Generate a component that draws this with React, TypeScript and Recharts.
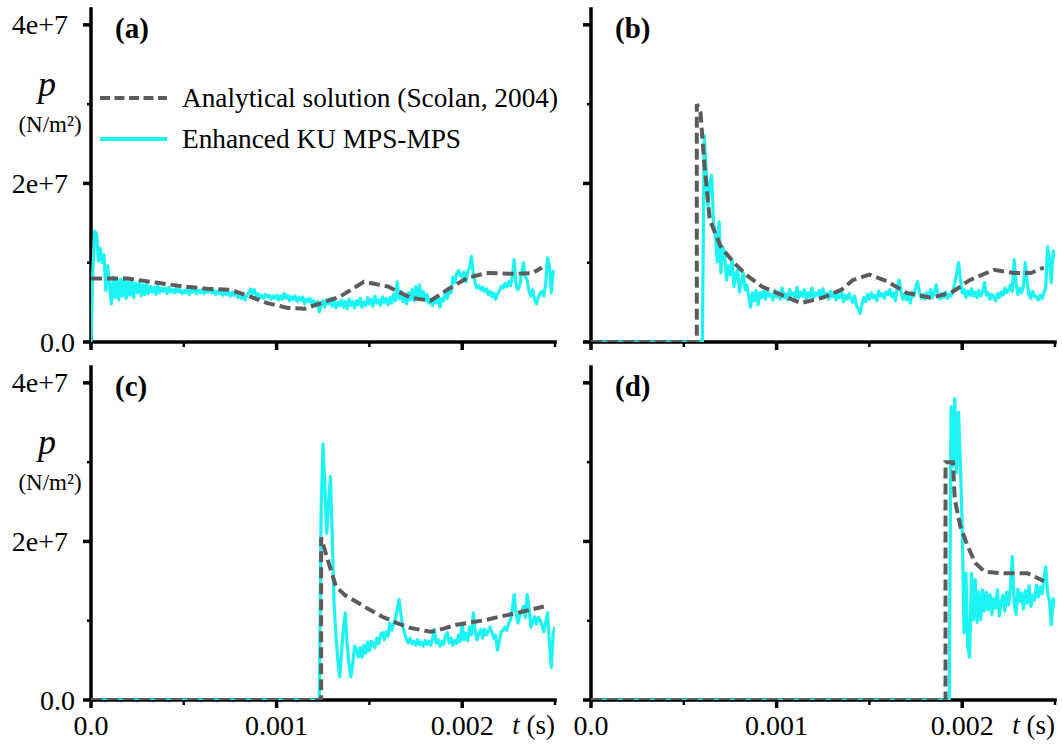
import React from 'react';
import { LineChart, Line, XAxis, YAxis, Legend } from 'recharts';

// ---------- axes ----------
const T_TICKS = [0, 0.0005, 0.001, 0.0015, 0.002, 0.0025];
const T_LABELS = ['0.0', '', '0.001', '', '0.002', ''];
const T_MAJOR = [0, 0.001, 0.002];
const P_TICKS = [0, 10, 20, 30, 40]; // pressure in units of 1e6 N/m2
const P_LABELS = ['0.0', '', '2e+7', '', '4e+7'];
const P_MAJOR = [0, 20, 40];
const DT = 0.00001; // sampling step of the MPS series (s)

// ---------- panel (a) ----------
const anaA_t = [0, 0.0002, 0.00035, 0.0005, 0.00063, 0.00075, 0.00085, 0.00095, 0.00106, 0.00115, 0.00124, 0.00134, 0.00147, 0.0016, 0.00172, 0.00183, 0.00192, 0.00203, 0.00213, 0.00228, 0.00238, 0.00243];
const anaA_p = [8.0, 8.0, 7.5, 7.0, 6.7, 6.6, 5.8, 4.9, 4.3, 4.2, 4.9, 5.7, 7.6, 7.0, 5.6, 5.2, 6.6, 8.1, 8.7, 8.6, 8.7, 9.4];
const mpsA_t0 = 0;
const mpsA_p = [
  0, 9, 14, 13.6, 10.2, 11.8, 10, 11, 6.5, 9.6,
  7.2, 4.8, 8.2, 5.6, 8, 5.3, 7.9, 5.8, 8.1, 5.5,
  7.6, 5.9, 7.8, 5.6, 7.4, 6.2, 7.6, 5.8, 7.2, 6,
  7.3, 6.1, 7, 6.3, 6.9, 6, 7.1, 6.2, 6.8, 6.4,
  6.8, 6.1, 6.9, 6.3, 6.6, 6.2, 6.9, 6.3, 6.6, 6.1,
  6.5, 6.2, 6.8, 6, 6.6, 6.3, 6.7, 6.1, 6.5, 6.2,
  6.6, 6.1, 6.4, 6.3, 6.7, 6.2, 6.5, 6, 6.4, 6.1,
  6.3, 5.9, 6.4, 6, 6.2, 5.8, 6.3, 5.9, 6.1, 5.6,
  6, 5.5, 5.8, 5.3, 5.9, 6.2, 6.7, 6.1, 6.6, 5.8,
  6.1, 5.6, 5.9, 5.5, 6, 5.7, 5.9, 5.4, 5.8, 5.5,
  5.9, 5.3, 5.8, 5.4, 6.1, 5.5, 5.9, 5.2, 5.7, 5.4,
  5.8, 5.1, 5.6, 5.3, 5.7, 4.8, 5.4, 5.1, 5.5, 4.7,
  5.2, 4.6, 5.1, 3.8, 4.6, 5.2, 4.4, 5.3, 4.8, 5.5,
  4.5, 5.2, 4.3, 5, 4.6, 5.3, 4.4, 5.1, 4.2, 5.4,
  4.6, 5.1, 4.3, 5.2, 4.7, 5.5, 4.4, 5, 4.6, 5.6,
  4.8, 5.4, 4.5, 5.8, 4.9, 5.3, 4.6, 5.7, 5, 5.5,
  4.7, 5.6, 4.9, 6, 5.2, 7.6, 5.4, 6.4, 5.1, 5.9,
  4.8, 6.2, 5.3, 6.6, 5.2, 7, 5.6, 7.2, 5.5, 6.4,
  5.2, 6, 4.9, 5.4, 4.6, 5.6, 4.9, 5.8, 4.4, 5.5,
  5.2, 6.3, 5.5, 6.8, 6.2, 8.2, 7.5, 8.6, 9, 8.4,
  8.2, 8.8, 7.6, 8.9, 9.4, 10.8, 8.6, 7.4, 6.8, 7.1,
  6.6, 6.9, 6.4, 6.7, 6, 6.4, 5.7, 6.2, 5.4, 6,
  6.4, 7, 6.8, 7.4, 7, 7.6, 7.1, 8.2, 10.4, 7.3,
  6.6, 7.2, 8.6, 10, 8.2, 7.8, 6.4, 5.8, 6.6, 5.4,
  4.8, 5.6, 6.2, 6.4, 5.8, 7.4, 10.6, 9.5, 6.2, 8.9,
  8.7,
];

// ---------- panel (b) ----------
const anaB_t = [0, 0.00057, 0.00057, 0.00059, 0.00061, 0.00064, 0.0007, 0.00077, 0.00084, 0.00092, 0.00102, 0.00113, 0.00125, 0.00135, 0.00141, 0.0015, 0.0016, 0.0017, 0.00183, 0.00194, 0.00204, 0.00217, 0.00228, 0.00237, 0.00244];
const anaB_p = [0, 0, 30, 29, 22.6, 15.4, 12, 10, 8.4, 7, 6, 4.9, 5.6, 6.6, 7.8, 8.5, 7.6, 6.2, 5.6, 6.2, 7.8, 9.1, 8.7, 8.7, 9.4];
const mpsB_t0 = 0.0006;
const mpsB_p = [
  0, 26, 22, 17, 20, 21, 15, 13.8, 10.1, 15.2,
  8.7, 12, 11.2, 7.8, 9.6, 8.5, 10.4, 7, 8.6, 9.1,
  6.3, 7.6, 8.7, 6.6, 7.2, 5.7, 4.4, 6.2, 5.2, 6.5,
  4.7, 6.2, 5.6, 6.4, 5.4, 6.6, 5.8, 6, 5.3, 6.5,
  5.7, 6.3, 5.4, 6.8, 5.6, 6.1, 5.3, 6.6, 5.9, 6.2,
  5.5, 6.9, 5.6, 6.3, 5.8, 6.6, 5.4, 6.2, 5.7, 6.8,
  5.6, 6.2, 5.9, 6.5, 5.5, 6.7, 5.8, 6.1, 5.4, 6.4,
  5.7, 6.2, 5.3, 6, 5.6, 6.3, 5.1, 5.9, 5.4, 6.1,
  5.5, 5, 5.8, 4.6, 4.2, 3.6, 4.8, 5.6, 5.1, 6,
  5.4, 6.2, 5.6, 5.9, 5.2, 6.4, 5.8, 6.1, 5.5, 6.3,
  6, 6.6, 5.7, 6.2, 5.2, 6.8, 7.8, 6.4, 5.4, 6,
  5.3, 6.1, 4.9, 6.3, 5.8, 7, 7.6, 6.2, 5.5, 6,
  5.4, 6.2, 5.7, 6.6, 5.6, 6.3, 7.2, 5.9, 5.4, 6.1,
  5.6, 6.3, 5.5, 6, 5.8, 6.4, 7.4, 8.6, 10, 8,
  6.2, 6.6, 5.6, 6.4, 5.9, 6.7, 5.8, 6.3, 5.6, 6.5,
  5.8, 6.4, 7.5, 5.9, 6.2, 5.4, 6, 5.7, 5.2, 6.1,
  5.6, 6.3, 5.9, 6.8, 6.2, 6.5, 7.2, 6.4, 10.4, 7.4,
  6, 6.8, 6.2, 7, 10, 7.6, 6, 5.5, 6.4, 5.8,
  5.7, 5.3, 5.9, 5.5, 6.2, 6.8, 12, 10.5, 7.5, 11.5,
  10.6,
];

// ---------- panel (c) ----------
const anaC_t = [0, 0.00124, 0.00124, 0.00127, 0.00132, 0.00137, 0.00143, 0.0015, 0.00157, 0.00165, 0.00172, 0.00183, 0.0019, 0.00197, 0.00205, 0.00213, 0.0022, 0.0023, 0.00237, 0.00244];
const anaC_p = [0, 0, 20.5, 18.1, 14.3, 13.2, 12.4, 11.4, 10.5, 9.7, 9.1, 8.6, 9, 9.5, 9.8, 10.1, 10.5, 11, 11.4, 11.8];
const mpsC_t0 = 0.00123;
const mpsC_p = [
  0, 24, 32.3, 27, 21, 25, 28.2, 20.6, 12, 8,
  5, 2.9, 6, 9, 11, 7, 4.5, 2.9, 4.5, 6.8,
  6.3, 5.4, 6.6, 5.4, 6.9, 5.9, 7.3, 6.2, 7.4, 7.2,
  6.6, 7.8, 7.1, 8.2, 8.5, 7.6, 8.6, 8, 9.7, 8.8,
  9.6, 10.2, 11.4, 12.7, 10.8, 9.2, 8.4, 7.6, 7.2, 7.8,
  7.1, 7.4, 6.9, 7.6, 7, 7.3, 6.8, 7.5, 7, 7.4,
  6.9, 7.7, 8.9, 7.2, 7.6, 6.8, 7.4, 7, 8.1, 8.5,
  7.2, 7.8, 6.9, 7.5, 7.1, 8.2, 7.4, 9.7, 7.6, 8.4,
  7.5, 9.2, 8.2, 11, 8.6, 7.6, 8.4, 8.9, 7.8, 8.9,
  8.2, 8.6, 9.2, 8.5, 7.8, 8.2, 6.3, 7.4, 8.6, 8.8,
  9.2, 8.8, 9.6, 10.1, 11.4, 13.3, 11, 9.7, 10.6, 11.2,
  11.8, 10.4, 13.3, 11.6, 9.2, 9.8, 10.5, 9.6, 10.4, 10.1,
  9.4, 8.6, 9.8, 11, 7.2, 4.1, 8.4, 9.2,
];

// ---------- panel (d) ----------
const anaD_t = [0, 0.00191, 0.00191, 0.00195, 0.00196, 0.00199, 0.00203, 0.00207, 0.00212, 0.0022, 0.00235, 0.00244];
const anaD_p = [0, 0, 30, 30, 25.3, 21.9, 19.4, 17.3, 16.2, 16, 16, 15];
const mpsD_t0 = 0.00193;
const mpsD_p = [
  0, 37, 29.5, 38, 28.7, 36.3, 30, 21.9, 8.5, 16,
  6.7, 5.4, 16, 10.1, 15.2, 9.8, 13.6, 10.1, 13.9, 11.2,
  13.6, 11.4, 13.3, 10.8, 12.8, 11.6, 13.9, 10.6, 12.4, 13.2,
  11.2, 13.6, 12, 14.2, 18.1, 12.2, 10.8, 14, 12.4, 13.5,
  11.5, 13.8, 12.2, 14.4, 11.8, 13.2, 12.6, 14.5, 13, 14.2,
  13.4, 15.2, 16.8, 13.5, 12.6, 9.5, 12.8, 11.8,
];

// ---------- helpers ----------
const pairRows = (ts: number[], ps: number[]) => ps.map((p, i) => ({ t: ts[i], p }));
const sampledRows = (t0: number, ps: number[]) => {
  const rows = ps.map((p, i) => ({ t: Number((t0 + i * DT).toFixed(7)), p }));
  return t0 > 0 ? [{ t: 0, p: 0 }, ...rows] : rows;
};

const FONT = "'Liberation Serif', 'Times New Roman', serif";
const ANA_COLOR = '#5c5c5c';
const MPS_COLOR = '#1cf4f4';

const makeYTick = (withLabels: boolean) => (props: any) => {
  const { x, y, payload } = props;
  const i = P_TICKS.indexOf(payload.value);
  const major = P_MAJOR.includes(payload.value);
  const label = withLabels ? P_LABELS[i] : '';
  const gap = label === '0.0' ? 16 : 23;
  return (
    <g>
      <line x1={x} x2={x - (major ? 8 : 4)} y1={y} y2={y} stroke="#000" strokeWidth={major ? 3.5 : 2.5} />
      {label ? (
        <text x={x - gap} y={y} textAnchor="end" dominantBaseline="central" fontFamily={FONT} fontSize={28} fill="#000">
          {label}
        </text>
      ) : null}
    </g>
  );
};

const makeXTick = (withLabels: boolean) => (props: any) => {
  const { x, y, payload } = props;
  const i = T_TICKS.findIndex((v) => Math.abs(v - payload.value) < 1e-9);
  const major = T_MAJOR.some((v) => Math.abs(v - payload.value) < 1e-9);
  const label = withLabels ? T_LABELS[i] : '';
  return (
    <g>
      <line x1={x} x2={x} y1={y} y2={y + (major ? 8 : 5)} stroke="#000" strokeWidth={major ? 3.5 : 2.5} />
      {label ? (
        <text x={x} y={y + 25} textAnchor="middle" dominantBaseline="central" fontFamily={FONT} fontSize={28} fill="#000">
          {label}
        </text>
      ) : null}
    </g>
  );
};

const renderLegend = () => (
  <svg width={470} height={80} style={{ display: 'block', overflow: 'visible' }}>
    <line x1={5} x2={72} y1={20} y2={20} stroke={ANA_COLOR} strokeWidth={4} strokeDasharray="10 4.5" />
    <text x={87} y={20} dominantBaseline="central" fontFamily={FONT} fontSize={27.3} fill="#000">
      Analytical solution (Scolan, 2004)
    </text>
    <line x1={5} x2={72} y1={61} y2={61} stroke={MPS_COLOR} strokeWidth={4} />
    <text x={87} y={61} dominantBaseline="central" fontFamily={FONT} fontSize={27.3} fill="#000">
      Enhanced KU MPS-MPS
    </text>
  </svg>
);

type PanelProps = {
  tag: string;
  left: number;
  top: number;
  height: number;
  xAxisHeight: number;
  yLabels: boolean;
  xLabels: boolean;
  legend?: boolean;
  ana: { t: number; p: number }[];
  mps: { t: number; p: number }[];
};

const Panel = ({ tag, left, top, height, xAxisHeight, yLabels, xLabels, legend, ana, mps }: PanelProps) => {
  const yLabel = (lp: any) => {
    const vb = lp.viewBox || {};
    const ax = vb.x + vb.width; // axis line x
    return (
      <g fontFamily={FONT} fill="#000">
        <text x={ax + 24} y={vb.y + 19} dominantBaseline="central" fontSize={29} fontWeight="bold">
          {tag}
        </text>
        {yLabels ? (
          <>
            <text x={ax - 44} y={vb.y + 87} textAnchor="middle" fontSize={36} fontStyle="italic">
              p
            </text>
            <text x={ax - 41} y={vb.y + 123} textAnchor="middle" fontSize={23}>
              (N/m²)
            </text>
          </>
        ) : null}
      </g>
    );
  };
  const xLabel = (lp: any) => {
    const vb = lp.viewBox || {};
    if (!xLabels) return null;
    return (
      <text x={vb.x + vb.width} y={vb.y + 25} textAnchor="end" dominantBaseline="central" fontFamily={FONT} fontSize={27} fill="#000">
        <tspan fontStyle="italic">t</tspan> (s)
      </text>
    );
  };
  return (
    <div style={{ position: 'absolute', left, top }}>
      <LineChart width={560} height={height} margin={{ top: 9, right: 5, bottom: 0, left: 0 }}>
        <XAxis
          type="number"
          dataKey="t"
          domain={[0, 0.0025]}
          ticks={T_TICKS}
          interval={0}
          height={xAxisHeight}
          tickSize={0}
          tickMargin={0}
          tickLine={false}
          tick={makeXTick(xLabels)}
          axisLine={{ stroke: '#000', strokeWidth: 3.5, strokeLinecap: 'square' }}
          label={xLabel}
          allowDataOverflow
        />
        <YAxis
          type="number"
          domain={[0, 42]}
          ticks={P_TICKS}
          interval={0}
          width={91}
          tickSize={0}
          tickMargin={0}
          tickLine={false}
          tick={makeYTick(yLabels)}
          axisLine={{ stroke: '#000', strokeWidth: 3.5, strokeLinecap: 'square' }}
          label={yLabel}
          allowDataOverflow
        />
        {legend ? (
          <Legend
            content={renderLegend}
            layout="horizontal"
            verticalAlign="middle"
            align="center"
            wrapperStyle={{ left: 95, top: 78, width: 470 }}
          />
        ) : null}
        <Line
          data={mps}
          dataKey="p"
          name="Enhanced KU MPS-MPS"
          type="linear"
          stroke={MPS_COLOR}
          strokeWidth={3.2}
          dot={false}
          activeDot={false}
          isAnimationActive={false}
          strokeLinejoin="round"
          zIndex={600}
        />
        <Line
          data={ana}
          dataKey="p"
          name="Analytical solution (Scolan, 2004)"
          type="linear"
          stroke={ANA_COLOR}
          strokeWidth={4}
          strokeDasharray="11 5"
          dot={false}
          activeDot={false}
          isAnimationActive={false}
          zIndex={610}
        />
      </LineChart>
    </div>
  );
}

export default function App() {
  return (
    <div style={{ position: 'absolute', left: 0, top: 0, width: 1062, height: 749, background: '#fff' }}>
      <Panel tag="(a)" left={0} top={0} height={380} xAxisHeight={38} yLabels xLabels={false} legend
        ana={pairRows(anaA_t, anaA_p)} mps={sampledRows(mpsA_t0, mpsA_p)} />
      <Panel tag="(b)" left={500} top={0} height={380} xAxisHeight={38} yLabels={false} xLabels={false}
        ana={pairRows(anaB_t, anaB_p)} mps={sampledRows(mpsB_t0, mpsB_p)} />
      <Panel tag="(c)" left={0} top={358} height={391} xAxisHeight={49} yLabels xLabels
        ana={pairRows(anaC_t, anaC_p)} mps={sampledRows(mpsC_t0, mpsC_p)} />
      <Panel tag="(d)" left={500} top={358} height={391} xAxisHeight={49} yLabels={false} xLabels
        ana={pairRows(anaD_t, anaD_p)} mps={sampledRows(mpsD_t0, mpsD_p)} />
    </div>
  );
}
